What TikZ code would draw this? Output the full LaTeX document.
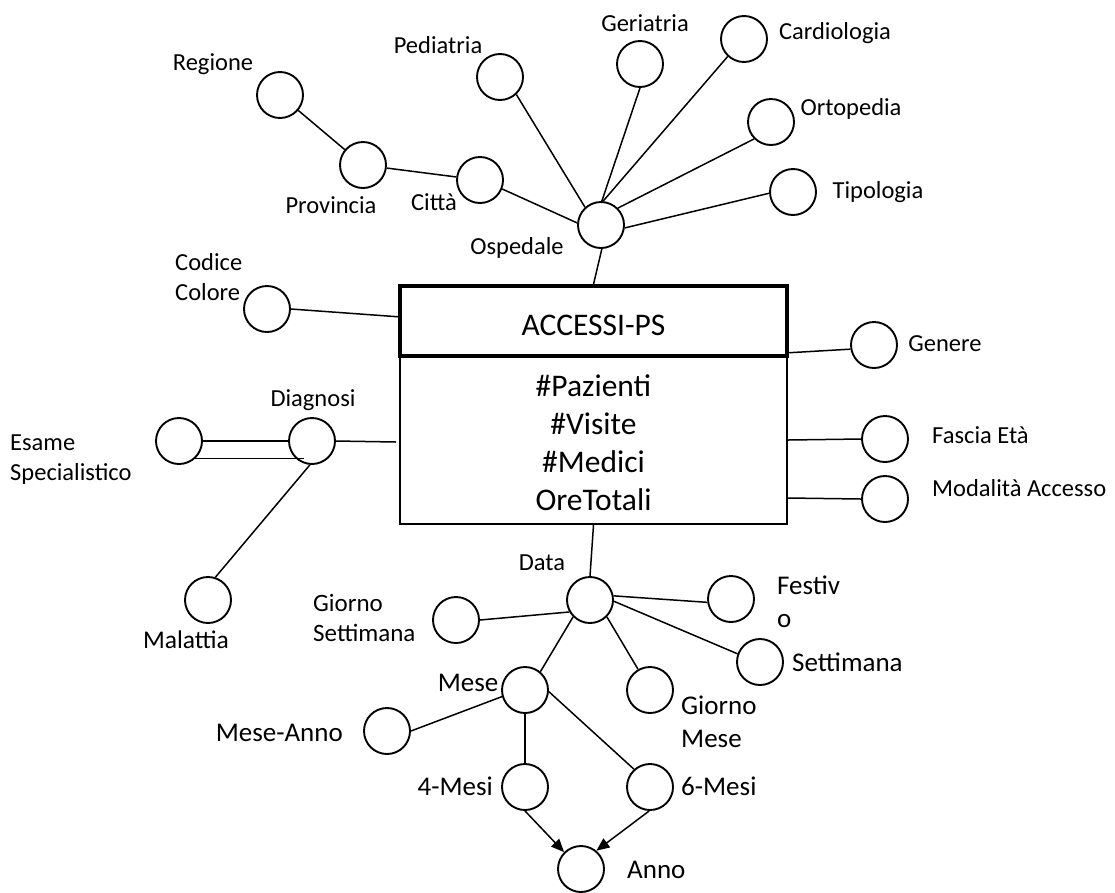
\documentclass[tikz,border=0pt]{standalone}
\usepackage{fontspec}
\setmainfont{Carlito}
\usetikzlibrary{arrows.meta}

\tikzset{
  attr/.style={circle, draw, line width=1.9pt, minimum size=46pt, inner sep=0pt},
  lbl/.style={font=\fontsize{24.5}{30}\selectfont, inner sep=0pt, text height=16pt, text depth=0pt},
  lblb/.style={font=\fontsize{27}{33}\selectfont, inner sep=0pt, text height=17.5pt, text depth=0pt},
  mlbl/.style={font=\fontsize{24.5}{30}\selectfont, inner sep=0pt, align=left, anchor=base west},
  mlblb/.style={font=\fontsize{27}{33}\selectfont, inner sep=0pt, align=left, anchor=base west},
  link/.style={line width=1.5pt},
  arr/.style={line width=1.5pt, -{Triangle[length=13pt,width=11pt]}},
}

\begin{document}
\begin{tikzpicture}[x=1pt,y=-1pt]
\useasboundingbox (0,0) rectangle (1115,892);
\fill[white] (0,0) rectangle (1115,892);

% fact box
\node[draw, line width=2pt, minimum width=387pt, minimum height=168pt, inner sep=0pt] (bdy) at (593.5,440) {};
\node[align=center, font=\fontsize{31.5}{38}\selectfont, inner sep=0pt, anchor=base] (meas) at (593.5,510)
  {\#Pazienti\\\#Visite\\\#Medici\\OreTotali};
\node[draw, line width=3.5pt, minimum width=387pt, minimum height=70pt, inner sep=0pt,
      font=\fontsize{31.5}{38}\selectfont, text height=28pt, text depth=0pt] (hdr) at (593.5,321) {ACCESSI-PS};

% attribute circles
\node[attr] (reg)  at (280,95)  {};
\node[attr] (prov) at (363,165) {};
\node[attr] (city) at (480,180) {};
\node[attr] (osp)  at (601,225) {};
\node[attr] (ped)  at (500,77)  {};
\node[attr] (ger)  at (640,64)  {};
\node[attr] (car)  at (744,39)  {};
\node[attr] (ort)  at (771,122) {};
\node[attr] (tip)  at (793,192) {};
\node[attr] (cod)  at (267,309) {};
\node[attr] (gen)  at (874,345) {};
\node[attr] (fas)  at (885,439) {};
\node[attr] (mod)  at (885,499) {};
\node[attr] (diag) at (312,441) {};
\node[attr] (esa)  at (179,441) {};
\node[attr] (mal)  at (208,600) {};
\node[attr] (data) at (590,600) {};
\node[attr] (gset) at (456,620) {};
\node[attr] (fest) at (731,599) {};
\node[attr] (sett) at (760,662) {};
\node[attr] (gmes) at (650,690) {};
\node[attr] (mese) at (525,690) {};
\node[attr] (mann) at (387,731) {};
\node[attr] (qm)   at (525,787) {};
\node[attr] (sm)   at (650,787) {};
\node[attr] (anno) at (581,869) {};

% labels
\node[lbl] (lreg)  at (213,62)  {Regione};
\node[lbl] (lprov) at (331,205) {Provincia};
\node[lbl] (lcity) at (434,202) {Città};
\node[lbl] (losp)  at (517,246) {Ospedale};
\node[lbl] (lped)  at (438,45)  {Pediatria};
\node[lbl] (lger)  at (645,23)  {Geriatria};
\node[lbl] (lcar)  at (835,31)  {Cardiologia};
\node[lbl] (lort)  at (851,107) {Ortopedia};
\node[lbl] (ltip)  at (878,190) {Tipologia};
\node[mlbl] (lcod) at (175,300) {Codice\\Colore};
\node[lbl] (lgen)  at (945,343) {Genere};
\node[lbl, anchor=west] (lfas) at (932,435) {Fascia Età};
\node[lbl, anchor=west] (lmod) at (932,488) {Modalità Accesso};
\node[lbl] (ldiag) at (313,398) {Diagnosi};
\node[mlbl] (lesa) at (10,480) {Esame\\Specialistico};
\node[lbl, font=\fontsize{25.5}{31}\selectfont] (lmal) at (186,640) {Malattia};
\node[lbl] (ldata) at (542,562) {Data};
\node[mlbl, font=\fontsize{25}{30}\selectfont] (lgset) at (313,641) {Giorno\\Settimana};
\node[mlblb] (lfest) at (777,627) {Festiv\\o};
\node[lblb, anchor=west] (lsett) at (792,663) {Settimana};
\node[mlblb] (lgmes) at (681,747) {Giorno\\Mese};
\node[lblb] (lmese) at (468,683) {Mese};
\node[lblb, anchor=east] (lmann) at (343,733) {Mese-Anno};
\node[lblb, anchor=east] (lqm) at (493,787) {4-Mesi};
\node[lblb, anchor=west] (lsm) at (681,787) {6-Mesi};
\node[lblb, anchor=west] (lanno) at (627,870) {Anno};

% hospital hierarchy
\draw[link] (reg) -- (prov);
\draw[link] (prov) -- (city);
\draw[link] (city.338) -- (osp.175);
\draw[link] (ped.313) -- (osp.132);
\draw[link] (ger.south) -- (osp.88);
\draw[link] (car.227) -- (osp.85);
\draw[link] (ort.225) -- (osp.45);
\draw[link] (tip.183) -- (osp.353);
\draw[link] (osp.272) -- (hdr.north);

% box attributes
\draw[link] (cod.east) -- ([xshift=3pt,yshift=4pt]hdr.west);
\draw[link] ([yshift=5pt]hdr.south east) -- (gen.190);
\draw[link] (bdy.east) -- (fas.west);
\draw[link] ([yshift=-58pt]bdy.east) -- (mod.west);
\draw[link] (diag.east) -- ([xshift=-3pt,yshift=-2pt]bdy.west);

% diagnosis
\draw[link] (esa.east) -- (diag.west);
\draw[link] (esa.313) -- (esa.313 -| diag.250);
\draw[link] (mal.72) -- (diag.265);

% date hierarchy
\draw[link] (bdy.south) -- (data.north);
\draw[link] (gset.east) -- (data.210);
\draw[link] (data.10) -- (fest.188);
\draw[link] (data.357) -- (sett.160);
\draw[link] (data.315) -- (gmes.120);
\draw[link] (data.225) -- (mese.50);
\draw[link] (mese.196) -- (mann.east);
\draw[link] (mese.south) -- (qm.north);
\draw[link] (mese.356) -- (sm.132);
\draw[arr] (qm.south) -- (anno.135);
\draw[arr] (sm.268) -- (anno.50);
\end{tikzpicture}
\end{document}
